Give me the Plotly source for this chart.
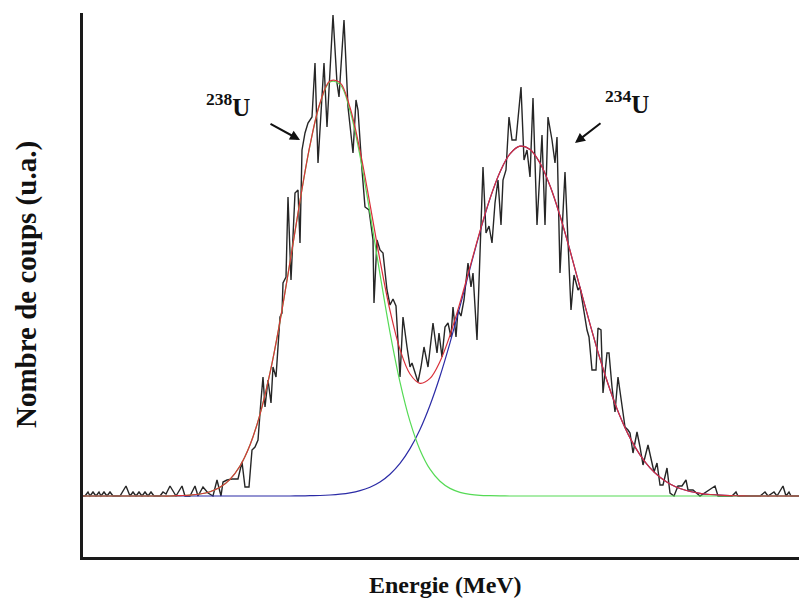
import plotly.graph_objects as go

# Measured alpha spectrum (channel, counts in arbitrary units)
trace_ch = [3, 5, 8, 10, 13, 16, 19, 21, 24, 27, 30, 33, 40, 46, 50, 53, 56, 59, 62, 65,
            68, 71, 74, 80, 83, 86, 90, 96, 102, 105, 110, 115, 118, 123, 128, 133, 137, 141, 143, 147,
            152, 158, 162, 165, 169, 172, 175, 178, 181, 183, 185, 188, 191, 193, 196, 198, 200, 202, 203, 206,
            208, 211, 215, 218, 220, 222, 225, 228, 232, 235, 238, 244, 247, 253, 257, 259, 264, 268, 273, 276,
            278, 282, 285, 289, 293, 294, 297, 300, 303, 307, 310, 313, 316, 320, 323, 327, 330, 332, 335, 338,
            341, 344, 348, 353, 357, 359, 362, 365, 368, 371, 373, 376, 378, 381, 384, 388, 391, 393, 397, 400,
            403, 406, 409, 412, 415, 418, 421, 423, 426, 429, 432, 436, 441, 444, 447, 450, 453, 457, 462, 465,
            468, 472, 475, 477, 480, 485, 491, 494, 498, 500, 504, 507, 509, 512, 516, 518, 521, 523, 527, 529,
            532, 535, 538, 542, 545, 548, 550, 553, 557, 560, 563, 568, 571, 574, 577, 580, 583, 587, 590, 594,
            598, 602, 606, 608, 613, 620, 635, 638, 652, 656, 658, 680, 685, 688, 694, 697, 703, 706, 709, 711,
            727]
trace_counts = [0, 0, 4, 0, 4, 0, 4, 0, 4, 0, 4, 0, 0, 10, 0, 4, 0, 4, 0, 4,
                0, 4, 0, 0, 4, 2, 10, 0, 10, 0, 0, 10, 0, 9, 3, 0, 16, 0, 14, 16,
                17, 17, 34, 9, 9, 46, 49, 56, 96, 119, 89, 116, 93, 129, 119, 146, 179, 183, 213, 219,
                299, 216, 303, 306, 253, 346, 363, 373, 379, 433, 333, 433, 369, 481, 413, 399, 476, 389, 343, 396,
                386, 326, 289, 286, 256, 193, 256, 246, 243, 206, 191, 197, 190, 119, 179, 149, 129, 133, 123, 114,
                129, 149, 129, 173, 143, 163, 139, 169, 173, 159, 189, 159, 186, 180, 196, 233, 209, 223, 156, 250,
                329, 263, 270, 253, 293, 316, 271, 316, 326, 379, 356, 356, 409, 336, 346, 319, 398, 271, 361, 271,
                379, 356, 333, 359, 223, 324, 186, 221, 206, 209, 183, 166, 159, 126, 126, 168, 166, 103, 143, 143,
                109, 84, 119, 88, 69, 66, 63, 43, 64, 49, 31, 51, 39, 24, 33, 11, 11, 28, 3, 0,
                10, 10, 16, 6, 6, 0, 10, 0, 0, 4, 0, 0, 4, 0, 4, 0, 10, 0, 4, 0,
                0]

# Fitted curves (sampled)
fit_ch = [3, 10, 20, 30, 40, 50, 60, 70, 80, 90,
          100, 110, 120, 130, 140, 150, 160, 170, 180, 190,
          200, 210, 220, 230, 240, 250, 260, 270, 280, 290,
          300, 310, 320, 330, 340, 350, 360, 370, 380, 390,
          400, 410, 420, 430, 440, 450, 460, 470, 480, 490,
          500, 510, 520, 530, 540, 550, 560, 570, 580, 590,
          600, 610, 620, 630, 640, 650, 660, 670, 680, 690,
          700, 710, 720, 727]
fit_238U = [0, 0, 0, 0, 0, 0, 0, 0, 0, 0,
            0.4, 0.9, 2.0, 4.3, 8.7, 16.7, 30.0, 51.0, 81.6, 123.1,
            174.7, 233.9, 295.0, 350.6, 392.5, 414.0, 411.6, 385.5, 340.2, 282.9,
            221.7, 163.7, 113.9, 74.6, 46.1, 26.8, 14.7, 7.6, 3.7, 1.7,
            0.7, 0.3, 0.1, 0, 0, 0, 0, 0, 0, 0,
            0, 0, 0, 0, 0, 0, 0, 0, 0, 0,
            0, 0, 0, 0, 0, 0, 0, 0, 0, 0,
            0, 0, 0, 0]
fit_234U = [0, 0, 0, 0, 0, 0, 0, 0, 0, 0,
            0, 0, 0, 0, 0, 0, 0, 0, 0, 0,
            0, 0, 0.1, 0.3, 0.5, 1.0, 1.8, 3.1, 5.3, 8.8,
            14.0, 21.8, 32.6, 47.4, 66.6, 90.8, 119.8, 153.2, 189.6, 227.4,
            264.2, 297.3, 324.0, 342.1, 349.8, 346.6, 333.0, 310.2, 280.2, 245.5,
            208.6, 171.8, 137.2, 106.3, 79.8, 58.1, 41.1, 28.1, 18.7, 12.0,
            7.5, 4.5, 2.7, 1.5, 0.8, 0.4, 0.2, 0, 0, 0,
            0, 0, 0, 0]
fit_total = [0, 0, 0, 0, 0, 0, 0, 0, 0, 0,
             0.4, 0.9, 2.0, 4.3, 8.7, 16.7, 30.0, 51.0, 81.6, 123.1,
             174.7, 233.9, 295.1, 350.9, 393.0, 415.0, 413.4, 388.6, 345.5, 291.7,
             235.7, 185.5, 146.5, 122.0, 112.7, 117.6, 134.5, 160.8, 193.3, 229.1,
             264.9, 297.6, 324.1, 342.1, 349.8, 346.6, 333.0, 310.2, 280.2, 245.5,
             208.6, 171.8, 137.2, 106.3, 79.8, 58.1, 41.1, 28.1, 18.7, 12.0,
             7.5, 4.5, 2.7, 1.5, 0.8, 0.4, 0.2, 0, 0, 0,
             0, 0, 0, 0]

peak_labels = ["<b><sup>238</sup>U</b>", "<b><sup>234</sup>U</b>"]
x_title = "Energie (MeV)"
y_title = "Nombre de coups (u.a.)"

fig = go.Figure()
fig.add_trace(go.Scatter(x=trace_ch, y=trace_counts, mode="lines",
                         line=dict(color="#262626", width=1.4), hoverinfo="skip"))
fig.add_trace(go.Scatter(x=fit_ch, y=fit_234U, mode="lines", line_shape="spline",
                         line=dict(color="#2b2ba6", width=1.2)))
fig.add_trace(go.Scatter(x=fit_ch, y=fit_238U, mode="lines", line_shape="spline",
                         line=dict(color="#55da55", width=1.2)))
fig.add_trace(go.Scatter(x=fit_ch, y=fit_total, mode="lines", line_shape="spline",
                         line=dict(color="#d9303a", width=1.2)))

serif = "Liberation Serif"
annotations = [
    dict(x=148, y=391, xref="x", yref="y", text=peak_labels[0], showarrow=False,
         font=dict(family=serif, size=25, color="#111")),
    dict(x=547, y=394, xref="x", yref="y", text=peak_labels[1], showarrow=False,
         font=dict(family=serif, size=25, color="#111")),
    dict(x=220, y=356, xref="x", yref="y", text="", showarrow=True, ax=-31, ay=-17,
         arrowhead=2, arrowsize=1, arrowwidth=2, arrowcolor="#111"),
    dict(x=495, y=353, xref="x", yref="y", text="", showarrow=True, ax=27, ay=-21,
         arrowhead=2, arrowsize=1, arrowwidth=2, arrowcolor="#111"),
    dict(x=0.5, y=-0.0515, xref="paper", yref="paper", text="<b>" + x_title + "</b>",
         showarrow=False, font=dict(family=serif, size=24, color="#111"), yanchor="middle"),
    dict(x=-0.0787, y=0.5, xref="paper", yref="paper", text="<b>" + y_title + "</b>",
         showarrow=False, textangle=-90, font=dict(family=serif, size=29, color="#111"),
         xanchor="center", yanchor="middle"),
]

# The page body has an 8 px default margin; offsets compensate for it.
fig.update_layout(
    width=799, height=599,
    margin=dict(l=75, r=0, t=5, b=50),
    plot_bgcolor="white", paper_bgcolor="white",
    showlegend=False,
    annotations=annotations,
    xaxis=dict(range=[3, 727], showline=True, linecolor="#1a1a1a", linewidth=3,
               showgrid=False, zeroline=False, showticklabels=False, ticks=""),
    yaxis=dict(range=[-61, 483], showline=True, linecolor="#1a1a1a", linewidth=3,
               showgrid=False, zeroline=False, showticklabels=False, ticks=""),
)

fig.write_html("out.html")
